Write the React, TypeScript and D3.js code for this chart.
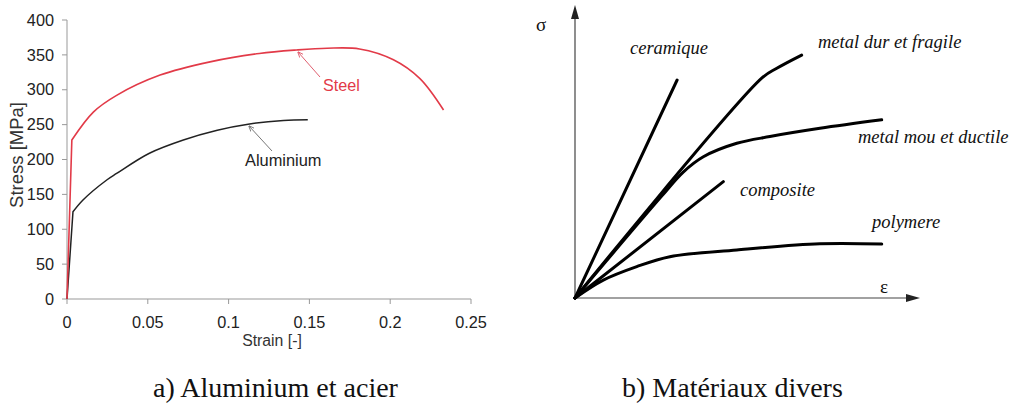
import React from "react";
import * as d3 from "d3";

// a) Aluminium and steel stress–strain curves (strain [-], stress [MPa])
const steelStrain = [0, 0.003, 0.0163, 0.0307, 0.0576, 0.0885, 0.119, 0.142, 0.161, 0.181, 0.202, 0.2184, 0.233];
const steelStress = [0, 228, 268, 292, 321, 340, 352, 357, 359.5, 358.5, 343, 316, 271];
const aluStrain = [0, 0.0037, 0.0099, 0.0248, 0.0307, 0.051, 0.072, 0.093, 0.113, 0.134, 0.149];
const aluStress = [0, 125, 142, 171, 180, 209, 228, 242, 251, 256, 257];
const strainTicks = [0, 0.05, 0.1, 0.15, 0.2, 0.25];
const stressTicks = [0, 50, 100, 150, 200, 250, 300, 350, 400];

// b) Schematic curves for various materials (ε, σ in arbitrary units 0–100)
const ceramiqueE = [0, 29.6];
const ceramiqueS = [0, 74.4];
const durE = [0, 54.2, 58.5, 65.7];
const durS = [0, 75.1, 78.4, 82.9];
const mouE = [0, 25, 31.3, 37.2, 46.9, 56.5, 71, 88.9];
const mouS = [0, 34.6, 42.9, 48.2, 52.8, 55.1, 57.9, 60.8];
const compositeE = [0, 43];
const compositeS = [0, 39.7];
const polymereE = [0, 8.2, 17.9, 27.5, 46.9, 71, 88.9];
const polymereS = [0, 6.1, 10.7, 14.1, 16.4, 18.5, 18.4];

const zip = (a: number[], b: number[]) => a.map((v, i) => [v, b[i]] as [number, number]);

export default function App() {
  // left panel scales
  const x = d3.scaleLinear().domain([0, 0.25]).range([67, 471]);
  const y = d3.scaleLinear().domain([0, 400]).range([299, 20]);
  const smooth = d3
    .line<[number, number]>()
    .x((d) => x(d[0]))
    .y((d) => y(d[1]))
    .curve(d3.curveCatmullRom.alpha(0.5));
  // straight elastic segment from the origin, then a smooth plastic branch
  const tensile = (strain: number[], stress: number[]) => {
    const pts = zip(strain, stress);
    const rest = smooth(pts.slice(1)) || "";
    return `M${x(pts[0][0])},${y(pts[0][1])}L${rest.slice(1)}`;
  };

  // right panel scales
  const ex = d3.scaleLinear().domain([0, 100]).range([575, 920]);
  const sy = d3.scaleLinear().domain([0, 100]).range([298, 5]);
  const sLine = d3
    .line<[number, number]>()
    .x((d) => ex(d[0]))
    .y((d) => sy(d[1]))
    .curve(d3.curveCatmullRom.alpha(0.5));

  const sans = "Liberation Sans, Arial, sans-serif";
  const serif = "Liberation Serif, Times New Roman, serif";

  const materials = [
    { e: ceramiqueE, s: ceramiqueS },
    { e: durE, s: durS },
    { e: mouE, s: mouS },
    { e: compositeE, s: compositeS },
    { e: polymereE, s: polymereS },
  ];

  return (
    <svg width={1013} height={405} style={{ position: "absolute", left: 0, top: 0, background: "#fff" }}>
      <defs>
        <marker id="arrRed" viewBox="0 0 10 10" refX="9" refY="5" markerWidth="6" markerHeight="6" orient="auto">
          <path d="M0,1 L10,5 L0,9" fill="none" stroke="#e06070" strokeWidth="1.5" />
        </marker>
        <marker id="arrGray" viewBox="0 0 10 10" refX="9" refY="5" markerWidth="6" markerHeight="6" orient="auto">
          <path d="M0,1 L10,5 L0,9" fill="none" stroke="#777" strokeWidth="1.5" />
        </marker>
      </defs>
      <rect width={1013} height={405} fill="#fff" />

      {/* left panel axes */}
      <g stroke="#999" strokeWidth={1}>
        <line x1={x(0)} x2={x(0)} y1={y(400)} y2={y(0)} />
        <line x1={x(0)} x2={x(0.25)} y1={y(0)} y2={y(0)} />
        {stressTicks.map((t) => (
          <line key={"yt" + t} x1={x(0) - 5} x2={x(0)} y1={y(t)} y2={y(t)} />
        ))}
        {strainTicks.map((t) => (
          <line key={"xt" + t} x1={x(t)} x2={x(t)} y1={y(0)} y2={y(0) + 5} />
        ))}
      </g>
      <g fontFamily={sans} fontSize={16.3} fill="#222">
        {stressTicks.map((t) => (
          <text key={"yl" + t} x={x(0) - 13} y={y(t)} dy="0.35em" textAnchor="end">
            {t}
          </text>
        ))}
        {strainTicks.map((t) => (
          <text key={"xl" + t} x={x(t)} y={y(0) + 29} textAnchor="middle">
            {t}
          </text>
        ))}
      </g>
      <text x={272} y={346} fontFamily={sans} fontSize={15.8} fill="#333" textAnchor="middle">
        Strain [-]
      </text>
      <text
        transform="translate(23,155) rotate(-90)"
        fontFamily={sans}
        fontSize={18.5}
        fill="#333"
        textAnchor="middle"
      >
        Stress [MPa]
      </text>

      <path d={tensile(aluStrain, aluStress)} fill="none" stroke="#222" strokeWidth={1.5} />
      <path d={tensile(steelStrain, steelStress)} fill="none" stroke="#e23a48" strokeWidth={1.6} />

      <line x1={320} y1={77} x2={298} y2={52} stroke="#e06070" strokeWidth={1} markerEnd="url(#arrRed)" />
      <text x={323} y={91} fontFamily={sans} fontSize={16.2} fill="#e23a48">
        Steel
      </text>
      <line x1={272} y1={151} x2={249} y2={126} stroke="#777" strokeWidth={1} markerEnd="url(#arrGray)" />
      <text x={245} y={166} fontFamily={sans} fontSize={16.4} fill="#222">
        Aluminium
      </text>

      {/* right panel axes */}
      <g stroke="#444" strokeWidth={1.2} fill="#222">
        <line x1={ex(0)} x2={ex(0)} y1={sy(0)} y2={sy(100) + 8} />
        <line x1={ex(0)} x2={ex(100) - 8} y1={sy(0)} y2={sy(0)} />
        <path
          d={`M${ex(0)},${sy(100)} L${ex(0) - 4},${sy(100) + 14} L${ex(0) + 4},${sy(100) + 14} Z`}
          stroke="none"
        />
        <path
          d={`M${ex(100)},${sy(0)} L${ex(100) - 14},${sy(0) - 4} L${ex(100) - 14},${sy(0) + 4} Z`}
          stroke="none"
        />
      </g>
      <text x={536} y={31} fontFamily={serif} fontSize={19} fill="#111">
        σ
      </text>
      <text x={880} y={293} fontFamily={serif} fontSize={19} fill="#111">
        ε
      </text>

      {materials.map((m, i) => (
        <path
          key={"m" + i}
          d={sLine(zip(m.e, m.s)) || ""}
          fill="none"
          stroke="#000"
          strokeWidth={3}
          strokeLinecap="round"
        />
      ))}

      <g fontFamily={serif} fontStyle="italic" fontSize={18.5} fill="#111">
        <text x={630} y={54}>ceramique</text>
        <text x={818} y={48}>metal dur et fragile</text>
        <text x={858} y={143}>metal mou et ductile</text>
        <text x={740} y={196}>composite</text>
        <text x={872} y={228}>polymere</text>
      </g>

      <g fontFamily={serif} fontSize={28} fill="#111">
        <text x={153} y={397}>a) Aluminium et acier</text>
        <text x={622} y={397}>b) Matériaux divers</text>
      </g>
    </svg>
  );
}
